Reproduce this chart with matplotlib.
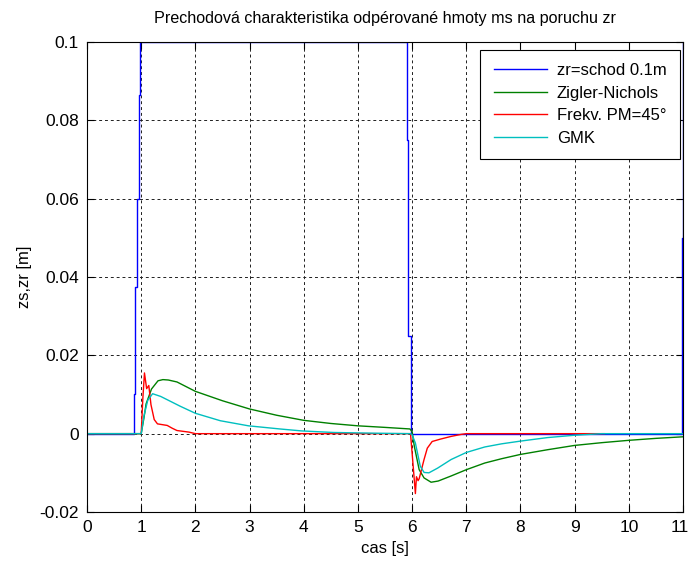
import matplotlib
matplotlib.use('Agg')
import matplotlib.pyplot as plt
import matplotlib.transforms as mtransforms

plt.rcParams.update({
    'font.family': ['Liberation Sans', 'DejaVu Sans'],
    'font.size': 12,
})

# vstupni signal - schod 0.1 m
t_zr = [0, 0.87, 0.89, 0.92, 0.95, 0.97, 5.90, 5.93, 5.97, 10.985, 11.0]
zr = [0, 0.010, 0.0375, 0.060, 0.0865, 0.1, 0.075, 0.025, 0, 0.05, 0.1]

# Zigler-Nichols
t_zn = [0, 1.0, 1.05, 1.09, 1.19, 1.31, 1.40, 1.50, 1.66, 2.0, 2.5, 3.0, 3.5,
        4.0, 4.5, 5.0, 5.5, 5.96, 6.0, 6.04, 6.13, 6.22, 6.35, 6.48, 6.72,
        7.0, 7.34, 7.65, 8.0, 8.5, 9.0, 9.5, 10.0, 10.5, 11.0]
zs_zn = [0, 0, 0.0040, 0.0076, 0.0114, 0.0135, 0.0138, 0.0137, 0.0132,
         0.0108, 0.0084, 0.0063, 0.0047, 0.0034, 0.0026, 0.0020, 0.0016,
         0.0012, 0.0005, -0.0032, -0.0092, -0.0113, -0.0124, -0.0121,
         -0.0108, -0.0092, -0.0075, -0.0064, -0.0053, -0.0041, -0.0030,
         -0.0023, -0.0017, -0.0012, -0.0008]

# frekvencni metoda PM=45
t_pm = [0, 1.0, 1.03, 1.06, 1.10, 1.14, 1.18, 1.24, 1.30, 1.48, 1.57, 1.66,
        1.88, 2.0, 5.97, 6.0, 6.06, 6.08, 6.11, 6.13, 6.22, 6.28, 6.37,
        6.52, 6.72, 6.9, 7.0, 9.55]
zs_pm = [0, 0, 0.0090, 0.0155, 0.0115, 0.0123, 0.0074, 0.0036, 0.0025,
         0.0021, 0.0014, 0.0008, 0.0004, 0, 0, -0.0050, -0.0153, -0.0110,
         -0.0120, -0.0115, -0.0066, -0.0037, -0.0020, -0.0014, -0.0007,
         -0.0002, 0, 0]

# GMK
t_gmk = [0, 1.0, 1.05, 1.12, 1.21, 1.36, 1.72, 2.0, 2.46, 2.98, 3.56, 3.96,
         4.55, 5.4, 5.97, 6.0, 6.06, 6.15, 6.22, 6.31, 6.47, 6.72, 7.0,
         7.34, 7.65, 8.0, 8.5, 9.0, 9.5, 11.0]
zs_gmk = [0, 0, 0.0045, 0.0085, 0.0102, 0.0095, 0.0070, 0.0052, 0.0033,
          0.0020, 0.0012, 0.0007, 0.0003, 0.0001, 0, -0.0003, -0.0024,
          -0.0083, -0.0099, -0.0100, -0.0088, -0.0066, -0.0048, -0.0034,
          -0.0026, -0.0019, -0.0010, -0.0004, 0, 0]

labels = ['zr=schod 0.1m', 'Zigler-Nichols', 'Frekv. PM=45°', 'GMK']
xticks = list(range(0, 12))
yticks = [-0.02, 0, 0.02, 0.04, 0.06, 0.08, 0.1]
ytick_labels = ['-0.02', '0', '0.02', '0.04', '0.06', '0.08', '0.1']

fig = plt.figure(figsize=(6.88, 5.63), dpi=100)
ax = fig.add_axes([0.1265, 0.0906, 0.8663, 0.8348])

lw = 1.0
ax.plot(t_zr, zr, color='#0000ff', lw=lw, drawstyle='steps-post', label=labels[0])
ax.plot(t_zn, zs_zn, color='#008000', lw=lw, label=labels[1])
ax.plot(t_pm, zs_pm, color='#ff0000', lw=lw, label=labels[2])
ax.plot(t_gmk, zs_gmk, color='#00bfbf', lw=lw, label=labels[3])

ax.set_xlim(0, 11)
ax.set_ylim(-0.02, 0.1)
ax.set_xticks(xticks)
ax.set_yticks(yticks)
ax.set_yticklabels(ytick_labels)

ax.grid(True, color='#202020', linestyle=(0, (3, 3)), linewidth=0.7)
ax.tick_params(direction='in', length=5, top=True, right=True, width=0.8,
               labelsize=12.5, pad=6)
# posledni popisek osy x kousek doleva, aby se vesel do obrazku
xl = ax.get_xticklabels()
xl[-1].set_horizontalalignment('right')
offset = mtransforms.ScaledTranslation(6 / 100, 0, fig.dpi_scale_trans)
xl[-1].set_transform(xl[-1].get_transform() + offset)
for s in ax.spines.values():
    s.set_linewidth(0.8)

ax.set_title('Prechodová charakteristika odpérované hmoty ms na poruchu zr',
             fontsize=11.6, pad=14)
ax.set_xlabel('cas [s]', fontsize=12, labelpad=4)
ax.set_ylabel('zs,zr [m]', fontsize=12, labelpad=5)

leg = ax.legend(loc='upper right', bbox_to_anchor=(0.995, 0.983),
                borderaxespad=0, fontsize=12, fancybox=False,
                edgecolor='black', framealpha=1, handlelength=3.2,
                handletextpad=0.6, labelspacing=0.45, borderpad=0.8)
leg.get_frame().set_linewidth(0.8)

fig.savefig('out.png', dpi=100, facecolor='white')
